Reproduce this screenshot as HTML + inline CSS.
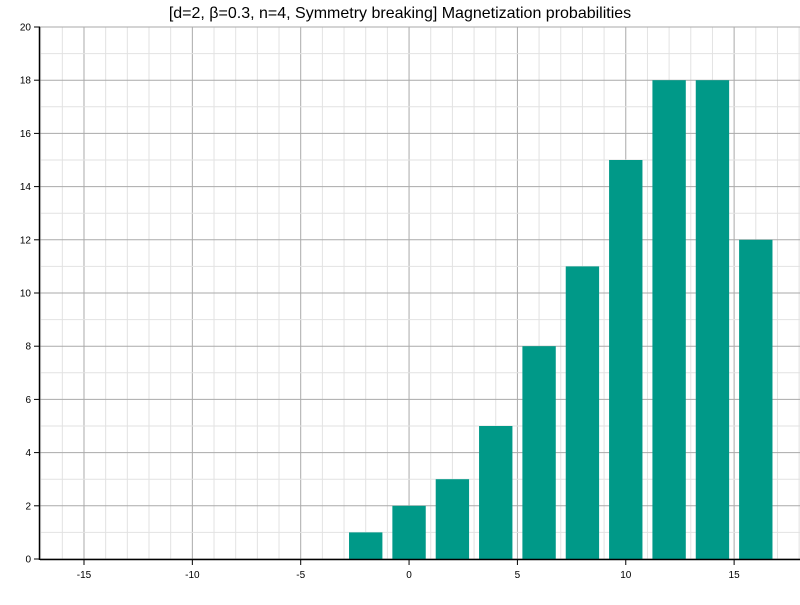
<!DOCTYPE html>
<html><head><meta charset="utf-8"><style>
body{margin:0;background:#fff;font-family:"Liberation Sans",sans-serif}
</style></head><body>
<svg id="chart" width="800" height="600" font-family="Liberation Sans, sans-serif">
<text x="400" y="18" text-anchor="middle" font-size="16" fill="#000">[d=2, β=0.3, n=4, Symmetry breaking] Magnetization probabilities</text>
<g id="grid"></g><g id="bars"></g><g id="axes"></g>
</svg>
<script>
const categories=[-2,0,2,4,6,8,10,12,14,16];
const values=[1,2,3,5,8,11,15,18,18,12];
const xTicks=[-15,-10,-5,0,5,10,15];
const yTicks=[0,2,4,6,8,10,12,14,16,18,20];
const NS='http://www.w3.org/2000/svg';
const x0=40,x1=800,y0=559,y1=27,xmin=-17.03,xmax=18.04,ymax=20;
const X=v=>x0+(v-xmin)/(xmax-xmin)*(x1-x0);
const Y=v=>y0-v/ymax*(y0-y1);
function mk(t,a,p){const e=document.createElementNS(NS,t);for(const k in a)e.setAttribute(k,a[k]);p.appendChild(e);return e;}
const grid=document.getElementById('grid'),bars=document.getElementById('bars'),axes=document.getElementById('axes');
for(let v=Math.ceil(xmin);v<=xmax;v++){const major=v%5===0;
const l=mk('line',{x1:X(v),x2:X(v),y1:y1,y2:y0,stroke:major?'#aaa':'#e2e2e2','stroke-width':1},grid);

}
for(let v=0;v<=ymax;v++){const major=v%2===0;
const l=mk('line',{x1:x0,x2:x1,y1:Y(v),y2:Y(v),stroke:major?'#aaa':'#e2e2e2','stroke-width':1},grid);

}
categories.forEach((c,i)=>{const w=X(0.77)-X(-0.77);
const r=mk('rect',{x:X(c)-w/2,y:Y(values[i]),width:w,height:Y(0)-Y(values[i]),fill:'#009988'},bars);

});
mk('line',{x1:x0,x2:x1,y1:y0+0.5,y2:y0+0.5,stroke:'#000','stroke-width':1.5},axes);
mk('line',{x1:x0-0.5,x2:x0-0.5,y1:y1,y2:y0+1,stroke:'#000','stroke-width':1.5},axes);
xTicks.forEach(v=>{mk('line',{x1:X(v),x2:X(v),y1:y0,y2:y0+6,stroke:'#000'},axes);
const t=mk('text',{x:X(v),y:y0+19,'text-anchor':'middle','font-size':10},axes);t.textContent=v;

});
yTicks.forEach(v=>{mk('line',{x1:x0-6,x2:x0,y1:Y(v),y2:Y(v),stroke:'#000'},axes);
const t=mk('text',{x:x0-9,y:Y(v)+3.5,'text-anchor':'end','font-size':10},axes);t.textContent=v;

});
</script>
</body></html>
